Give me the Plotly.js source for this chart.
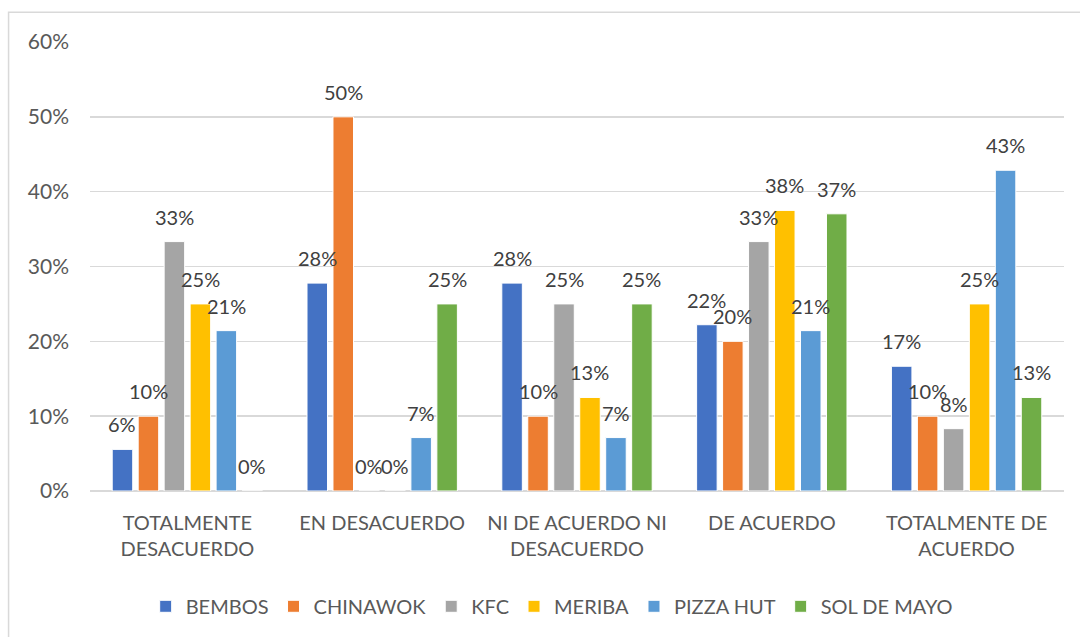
<!DOCTYPE html>
<html>
<head>
<meta charset="utf-8">
<script src="https://cdn.plot.ly/plotly-3.0.1.min.js"></script>
<style>
  html, body { margin: 0; padding: 0; background: #ffffff; }
  #chart { width: 1080px; height: 637px; }
</style>
</head>
<body>
<div id="chart"></div>
<script>
// ---- data ----
const categories = [
  "TOTALMENTE<br>DESACUERDO",
  "EN DESACUERDO",
  "NI DE ACUERDO NI<br>DESACUERDO",
  "DE ACUERDO",
  "TOTALMENTE DE<br>ACUERDO"
];
const seriesNames = ["BEMBOS", "CHINAWOK", "KFC", "MERIBA", "PIZZA HUT", "SOL DE MAYO"];
const bembos   = [5.56, 27.78, 27.78, 22.22, 16.67];
const chinawok = [10, 50, 10, 20, 10];
const kfc      = [33.33, 0, 25, 33.33, 8.33];
const meriba   = [25, 0, 12.5, 37.5, 25];
const pizzaHut = [21.43, 7.14, 7.14, 21.43, 42.86];
const solDeMayo = [0, 25, 25, 37.04, 12.5];
const yTicks = [0, 10, 20, 30, 40, 50, 60];

// ---- styling ----
const seriesValues = [bembos, chinawok, kfc, meriba, pizzaHut, solDeMayo];
const colors = ["#4472C4", "#ED7D31", "#A5A5A5", "#FFC000", "#5B9BD5", "#70AD47"];
const FONT = "Lato, 'Open Sans', sans-serif";
const bargap = 0.2;

const traces = seriesNames.map((name, i) => ({
  type: "bar",
  name: name,
  x: categories,
  y: seriesValues[i],
  marker: { color: colors[i], line: { color: "#ffffff", width: 1 } },
  hoverinfo: "none"
}));

// data labels placed through the axis scales
const n = seriesNames.length;
const slot = (1 - bargap) / n;
const annotations = [];
seriesValues.forEach((vals, i) => {
  vals.forEach((v, c) => {
    annotations.push({
      xref: "x", yref: "y",
      x: c - (1 - bargap) / 2 + (i + 0.5) * slot,
      y: v,
      text: Math.round(v) + "%",
      showarrow: false,
      xanchor: "center", yanchor: "bottom",
      yshift: 11,
      font: { family: FONT, size: 20, color: "#404040" }
    });
  });
});

const layout = {
  width: 1080, height: 637,
  paper_bgcolor: "#ffffff", plot_bgcolor: "#ffffff",
  margin: { l: 89.5, r: 16, t: 41.7, b: 145.3 },
  font: { family: FONT, size: 20, color: "#595959" },
  barmode: "group",
  bargap: bargap,
  bargroupgap: 0.21,
  showlegend: true,
  legend: {
    orientation: "h",
    x: 0.474, xanchor: "center",
    y: -0.254, yanchor: "middle",
    font: { family: FONT, size: 20, color: "#595959" },
    itemwidth: 30,
    traceorder: "normal"
  },
  xaxis: {
    type: "category",
    showgrid: false,
    showline: false,
    ticks: "",
    tickfont: { family: FONT, size: 20, color: "#595959" },
    ticklabelstandoff: 18,
    fixedrange: true
  },
  yaxis: {
    range: [0, 60],
    tickvals: yTicks,
    ticktext: yTicks.map(t => t + "%"),
    showgrid: true,
    gridcolor: "#d9d9d9",
    gridwidth: 1.5,
    zeroline: true,
    zerolinecolor: "#d9d9d9",
    zerolinewidth: 2,
    showline: false,
    ticks: "",
    tickfont: { family: FONT, size: 21, color: "#595959" },
    ticklabelstandoff: 20,
    fixedrange: true
  },
  annotations: annotations,
  shapes: [{
    type: "rect", xref: "paper", yref: "paper",
    x0: -0.0836, x1: 1.2, y0: -0.5, y1: 1.066,
    line: { color: "#d9d9d9", width: 1.5 },
    fillcolor: "rgba(0,0,0,0)",
    layer: "below"
  }]
};

Plotly.newPlot("chart", traces, layout, { displayModeBar: false, staticPlot: true });
</script>
</body>
</html>
